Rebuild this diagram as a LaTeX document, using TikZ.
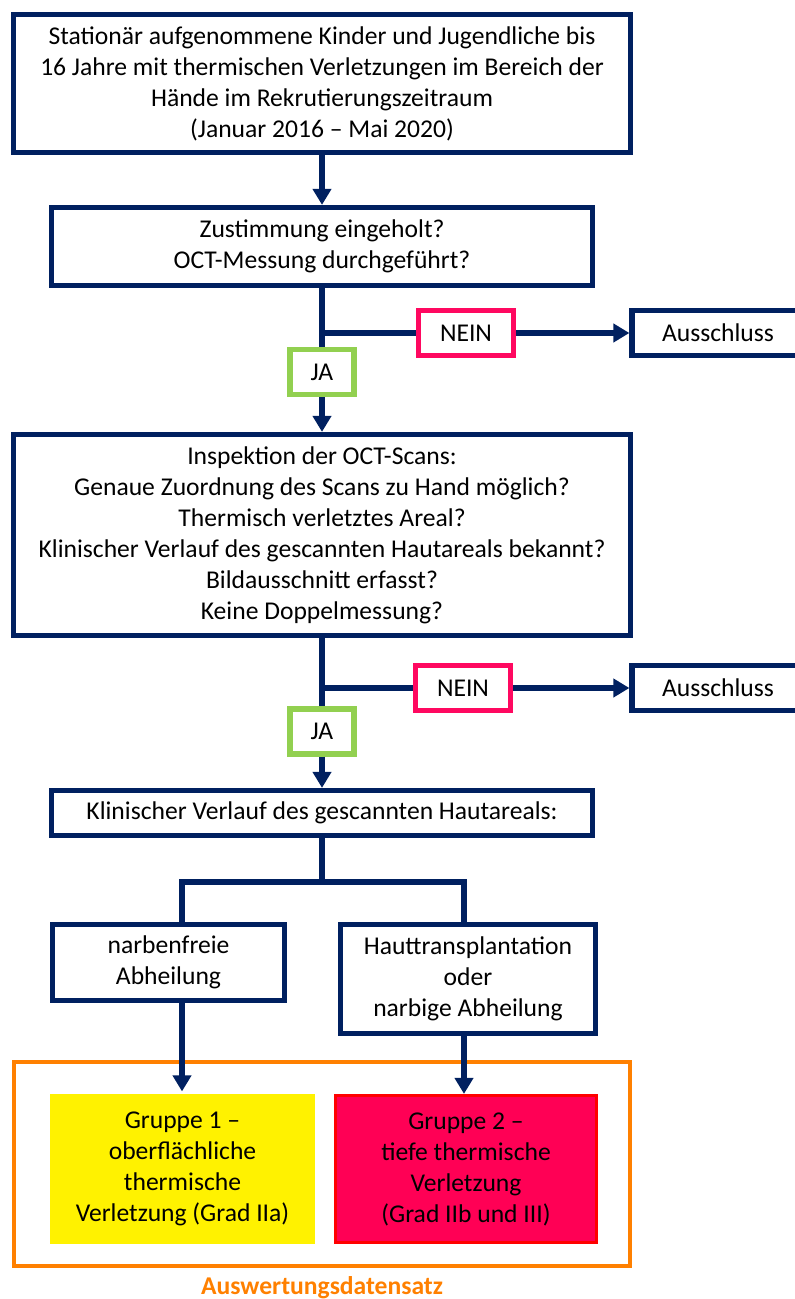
\documentclass[tikz,border=0pt]{standalone}
\usepackage{fontspec}
\setmainfont{Carlito}
\usetikzlibrary{arrows.meta,shapes}
\definecolor{navy}{HTML}{002060}
\definecolor{neinred}{HTML}{FF0860}
\definecolor{jagreen}{HTML}{92D050}
\definecolor{orangeframe}{HTML}{FF8000}
\definecolor{grpred}{HTML}{FF0055}
\tikzset{
  box/.style={draw=navy,line width=2.6pt,align=center,inner sep=0pt,
    font=\fontsize{12.8}{15.5}\selectfont},
  nein/.style={box,draw=neinred,minimum width=47.5pt,minimum height=22.5pt},
  ja/.style={box,draw=jagreen,minimum width=32pt,minimum height=22.5pt},
  aus/.style={box,minimum width=86pt,minimum height=22.5pt},
  line/.style={navy,line width=2.8pt},
  flow/.style={line,-{Triangle[width=9pt,length=8pt]}}
}

\begin{document}
\begin{tikzpicture}[x=0.5pt,y=-0.5pt]
\useasboundingbox (0,0) rectangle (795,1299);
% boxes
\node[box,minimum width=308.5pt,minimum height=69pt] (start) at (322,83.5)
  {Stationär aufgenommene Kinder und Jugendliche bis\\16 Jahre mit thermischen Verletzungen im Bereich der\\Hände im Rekrutierungszeitraum\\(Januar 2016 – Mai 2020)};
\node[box,minimum width=270.5pt,minimum height=39pt] (consent) at (322,246.5)
  {Zustimmung eingeholt?\\OCT-Messung durchgeführt?};
\node[nein] (nein1) at (466,333) {NEIN};
\node[aus] (aus1) at (718,333) {Ausschluss};
\node[ja] (ja1) at (322,372) {JA};
\node[box,minimum width=308.5pt,minimum height=100.5pt] (insp) at (322,535)
  {Inspektion der OCT-Scans:\\Genaue Zuordnung des Scans zu Hand möglich?\\Thermisch verletztes Areal?\\Klinischer Verlauf des gescannten Hautareals bekannt?\\Bildausschnitt erfasst?\\Keine Doppelmessung?};
\node[nein] (nein2) at (463,688) {NEIN};
\node[aus] (aus2) at (718,688) {Ausschluss};
\node[ja] (ja2) at (322,731.5) {JA};
\node[box,minimum width=270.5pt,minimum height=22.5pt] (clin) at (322,813)
  {Klinischer Verlauf des gescannten Hautareals:};
\node[box,minimum width=116pt,minimum height=38pt] (free) at (168.5,962.5)
  {narbenfreie\\Abheilung};
\node[box,minimum width=127.5pt,minimum height=54.5pt] (scar) at (468,979)
  {Hauttransplantation\\oder\\narbige Abheilung};
% Auswertungsdatensatz
\node[draw=orangeframe,line width=2.2pt,minimum width=308pt,minimum height=102pt] (set) at (322,1164) {};
\node[box,draw=none,fill=yellow,minimum width=132.5pt,minimum height=75pt] (grp1) at (182.5,1169)
  {Gruppe 1 –\\oberflächliche\\thermische\\Verletzung (Grad IIa)};
\node[box,draw=red,fill=grpred,line width=1.6pt,minimum width=130.5pt,minimum height=73.5pt] (grp2) at (466,1169)
  {Gruppe 2 –\\tiefe thermische\\Verletzung\\(Grad IIb und III)};
\node[font=\fontsize{12.8}{15.5}\selectfont\bfseries,text=orangeframe] (setlabel) at (322,1288) {Auswertungsdatensatz};
% connectors
\draw[flow] (start) -- (consent);
\draw[line] (consent) -- (ja1);
\draw[line] (consent.south |- nein1) -- (nein1);
\draw[flow] (nein1) -- (aus1);
\draw[flow] (ja1) -- (insp);
\draw[line] (insp) -- (ja2);
\draw[line] (insp.south |- nein2) -- (nein2);
\draw[flow] (nein2) -- (aus2);
\draw[flow] (ja2) -- (clin);
\coordinate (split) at (322,882);
\coordinate (lft) at (182,882);
\coordinate (rgt) at (464,882);
\draw[line] (clin) -- (split);
\draw[line] (lft |- free.north) -- (lft) -- (rgt) -- (rgt |- scar.north);
\draw[flow] (lft |- free.south) -- (lft |- grp1.north);
\draw[flow] (rgt |- scar.south) -- (rgt |- grp2.north);
\end{tikzpicture}
\end{document}
